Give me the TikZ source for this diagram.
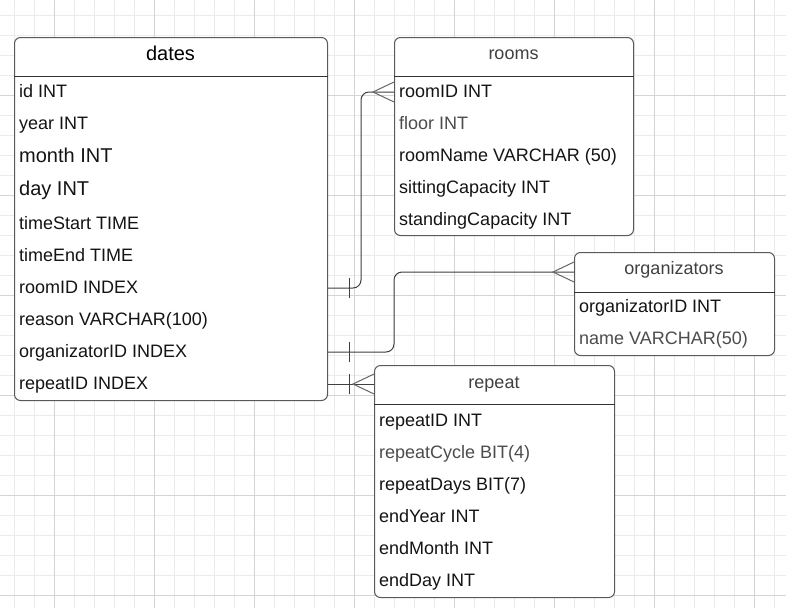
\documentclass[tikz,border=0pt]{standalone}
\usepackage{fontspec}
\setmainfont{Liberation Sans}
\begin{document}
\begin{tikzpicture}[x=1pt,y=-1pt,
  minor/.style={draw=black!8, line width=1pt},
  major/.style={draw=black!17, line width=1pt},
  tbl/.style={draw=black!65, line width=1pt, rounded corners=6pt, fill=white, inner sep=0pt, anchor=north west},
  sepline/.style={draw=black!80, line width=1pt},
  row/.style={anchor=base west, inner sep=0pt, text height=13pt, text depth=3pt, font=\fontsize{18}{20}\selectfont, text=black!92},
  bigrow/.style={row, font=\fontsize{20}{22}\selectfont},
  grayrow/.style={row, text=black!70},
  title/.style={anchor=base, inner sep=0pt, font=\fontsize{18}{20}\selectfont, text=black!75},
  bigtitle/.style={title, font=\fontsize{20}{22}\selectfont, text=black},
  conn/.style={draw=black!75, line width=1pt, rounded corners=8pt},
  crow/.style={draw=black!60, line width=1pt},
  bar/.style={draw=black!75, line width=1pt}]
\useasboundingbox (0,0) rectangle (786,608);
\fill[white] (0,0) rectangle (786,608);
% grid
\foreach \x in {14,34,...,774} \draw[minor] (\x,0) -- (\x,608);
\foreach \y in {15,35,...,595} \draw[minor] (0,\y) -- (786,\y);
\foreach \x in {54,154,...,754} \draw[major] (\x,0) -- (\x,608);
\foreach \y in {95,195,...,595} \draw[major] (0,\y) -- (786,\y);

% tables
\node[tbl, minimum width=313pt, minimum height=363pt] (dates) at (14,37) {};
\node[tbl, minimum width=239pt, minimum height=198pt] (rooms) at (394,37) {};
\node[tbl, minimum width=200pt, minimum height=103pt] (org) at (574,252) {};
\node[tbl, minimum width=240pt, minimum height=232pt] (rep) at (374,365) {};

\draw[sepline] ([yshift=-39pt]dates.north west) -- ([yshift=-39pt]dates.north east);
\draw[sepline] ([yshift=-39pt]rooms.north west) -- ([yshift=-39pt]rooms.north east);
\draw[sepline] ([yshift=-40pt]org.north west) -- ([yshift=-40pt]org.north east);
\draw[sepline] ([yshift=-39pt]rep.north west) -- ([yshift=-39pt]rep.north east);

% titles
\node[bigtitle] (datesT) at (170.5,60) {dates};
\node[title] (roomsT) at (513.5,59) {rooms};
\node[title] (orgT) at (674,274) {organizators};
\node[title] (repT) at (494,388) {repeat};

% dates rows
\node[row] (dId) at (19,97) {id INT};
\node[row] (dYear) at (19,129) {year INT};
\node[bigrow] (dMonth) at (19,162) {month INT};
\node[bigrow] (dDay) at (19,195) {day INT};
\node[row] (dStart) at (19,229) {timeStart TIME};
\node[row] (dEnd) at (19,261) {timeEnd TIME};
\node[row] (dRoom) at (19,293) {roomID INDEX};
\node[row] (dReason) at (19,325) {reason VARCHAR(100)};
\node[row] (dOrg) at (19,357) {organizatorID INDEX};
\node[row] (dRep) at (19,389) {repeatID INDEX};

% rooms rows
\node[row] (rRoom) at (399,97) {roomID INT};
\node[grayrow] (rFloor) at (399,129) {floor INT};
\node[row] (rName) at (399,161) {roomName VARCHAR (50)};
\node[row] (rSit) at (399,193) {sittingCapacity INT};
\node[row] (rStand) at (399,225) {standingCapacity INT};

% organizators rows
\node[row] (oId) at (579,312) {organizatorID INT};
\node[grayrow] (oName) at (579,344) {name VARCHAR(50)};

% repeat rows
\node[row] (pId) at (379,426) {repeatID INT};
\node[grayrow] (pCycle) at (379,458) {repeatCycle BIT(4)};
\node[row] (pDays) at (379,490) {repeatDays BIT(7)};
\node[row] (pYear) at (379,522) {endYear INT};
\node[row] (pMonth) at (379,554) {endMonth INT};
\node[row] (pDay) at (379,586) {endDay INT};

% connectors
\draw[conn] (dates.east |- dRoom) -- ++(33,0) |- (rooms.west |- rRoom);
\draw[conn] (dates.east |- dOrg) -- ++(66,0) |- ([yshift=-20pt]org.north west);
\draw[conn] (dates.east |- dRep) -- (rep.west |- dRep);

% crow's feet
\draw[crow] (rooms.west |- rRoom) ++(0,-10) -- ++(-21,10) -- ++(21,10);
\draw[crow] ([yshift=-20pt]org.north west) ++(0,-10) -- ++(-21,10) -- ++(21,10);
\draw[crow] (rep.west |- dRep) ++(0,-10) -- ++(-21,10) -- ++(21,10);

% one bars
\draw[bar] (dates.east |- dRoom) ++(21,-10) -- ++(0,20);
\draw[bar] (dates.east |- dOrg) ++(21,-10) -- ++(0,20);
\draw[bar] (dates.east |- dRep) ++(21,-10) -- ++(0,20);
\end{tikzpicture}
\end{document}
